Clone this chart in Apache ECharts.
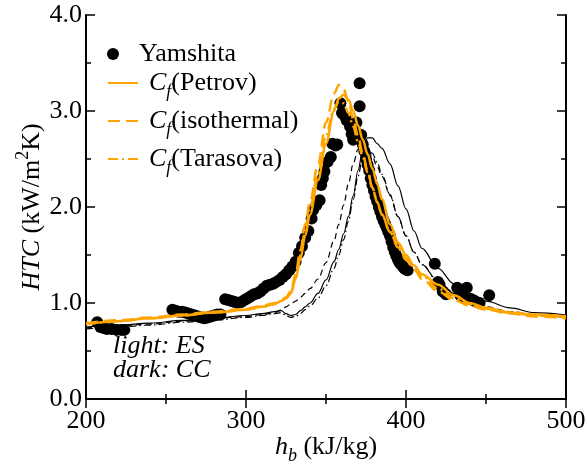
<!DOCTYPE html>
<html>
<head>
<meta charset="utf-8">
<script src="https://cdn.jsdelivr.net/npm/echarts@6/dist/echarts.min.js"></script>
<style>html,body{margin:0;padding:0;background:#fff}#c{width:587px;height:470px}</style>
</head>
<body>
<div id="c"></div>
<script>
// Yamshita experimental points
const yamH = [207,209,211,213,216,219,222,224,
 254,256,258,260,262,264,266,268,270,272,274,276,278,280,282,284,
 287,289,291,293,295,297,299,301,303,305,307,309,311,313,315,317,319,321,323,325,327,329,331,333,335,337,339,341,342,344,346,347,348,349,351,353,354,356,357,
 359,360,362,363,365,366,367,368,369,371,371,372,373,374,375,376,377,378,379,380,381,382,383,384,385,386,387,388,389,390,391,392,393,394,395,396,397,398,399,400,401,
 418,420,421,423,425,432,434,436,438,440,443,446,452];
const yamHTC = [0.80,0.75,0.74,0.73,0.73,0.72,0.72,0.72,
 0.93,0.92,0.91,0.91,0.90,0.89,0.88,0.87,0.86,0.85,0.84,0.85,0.86,0.87,0.88,0.88,
 1.04,1.03,1.02,1.01,1.00,1.01,1.03,1.05,1.07,1.09,1.10,1.12,1.15,1.18,1.19,1.20,1.22,1.24,1.27,1.30,1.34,1.38,1.43,1.52,1.59,1.68,1.75,1.88,1.97,2.02,2.07,2.23,2.30,2.37,2.47,2.52,2.66,2.64,2.65,
 3.08,2.98,2.94,2.90,2.84,2.76,2.70,2.80,2.88,3.05,3.29,2.75,2.65,2.58,2.50,2.44,2.38,2.30,2.23,2.17,2.11,2.06,2.00,1.95,1.90,1.86,1.82,1.78,1.74,1.70,1.64,1.58,1.53,1.49,1.45,1.42,1.40,1.38,1.36,1.35,1.34,
 1.41,1.22,1.19,1.12,1.09,1.16,1.08,1.06,1.16,1.04,1.02,1.00,1.08];

// common enthalpy grid for the model curves
const hGrid = [200,220,240,260,280,300,310,318,322,325,328,331,334,337,340,345,350,355,358,361,364,367,370,373,376,379,382,385,390,395,400,405,410,420,430,440,450,465,480,500];
// light: ES (orange)
const esPetrov = [0.78,0.81,0.84,0.87,0.90,0.93,0.96,0.99,1.02,1.05,1.10,1.25,1.46,1.70,1.92,2.28,2.66,3.00,3.13,3.17,3.12,3.00,2.85,2.70,2.55,2.40,2.24,2.08,1.82,1.63,1.50,1.39,1.30,1.19,1.08,1.00,0.95,0.90,0.88,0.86];
const esIso = [0.79,0.82,0.85,0.88,0.91,0.94,0.97,1.00,1.03,1.06,1.12,1.30,1.55,1.82,2.05,2.45,2.88,3.18,3.27,3.23,3.10,2.92,2.74,2.55,2.38,2.20,2.05,1.92,1.74,1.58,1.45,1.35,1.25,1.12,1.03,0.97,0.93,0.89,0.86,0.84];
const esTar = [0.78,0.81,0.84,0.87,0.90,0.93,0.96,0.99,1.02,1.05,1.10,1.27,1.50,1.76,1.98,2.35,2.75,3.02,3.10,3.08,2.98,2.84,2.68,2.52,2.36,2.20,2.05,1.92,1.74,1.59,1.47,1.37,1.28,1.15,1.05,0.99,0.94,0.90,0.87,0.85];
// dark: CC (black)
const ccPetrov = [0.75,0.77,0.79,0.82,0.84,0.87,0.89,0.91,0.92,0.89,0.87,0.88,0.92,0.96,1.00,1.10,1.24,1.43,1.56,1.72,1.90,2.12,2.38,2.60,2.72,2.72,2.66,2.61,2.45,2.22,1.98,1.75,1.57,1.36,1.20,1.10,1.02,0.95,0.90,0.875];
const ccIso = [0.74,0.76,0.78,0.81,0.84,0.86,0.88,0.90,0.93,0.96,0.99,1.02,1.06,1.10,1.15,1.25,1.42,1.65,1.82,2.02,2.24,2.45,2.60,2.66,2.62,2.52,2.42,2.32,2.12,1.90,1.70,1.53,1.40,1.23,1.10,1.02,0.96,0.91,0.88,0.86];
const ccTar = [0.73,0.75,0.77,0.80,0.82,0.85,0.87,0.89,0.90,0.87,0.85,0.86,0.89,0.93,0.97,1.05,1.18,1.36,1.50,1.66,1.85,2.08,2.32,2.52,2.60,2.56,2.46,2.34,2.13,1.90,1.70,1.53,1.40,1.22,1.09,1.01,0.95,0.90,0.87,0.85];

const xTicks = [200, 300, 400, 500];
const yTicks = [0, 1, 2, 3, 4];

const FONT = 'Liberation Serif';
const ORANGE = '#FFA500';
const zip = (xs, ys) => xs.map((x, i) => [x, ys[i]]);

const richBase = {
  t: {fontFamily: FONT, fontSize: 26, color: '#000', lineHeight: 36, verticalAlign: 'middle'},
  c: {fontFamily: FONT, fontSize: 26, color: '#000', fontStyle: 'italic', lineHeight: 36, verticalAlign: 'middle'},
  f: {fontFamily: FONT, fontSize: 18, color: '#000', fontStyle: 'italic', lineHeight: 18, verticalAlign: 'bottom'}
};

function lineSeries(name, data, color, width, type, z) {
  return {
    name: name, type: 'line', data: zip(hGrid, data), showSymbol: false, symbol: 'none',
    smooth: 0.35, smoothMonotone: 'x', z: z,
    lineStyle: {color: color, width: width, type: type}, itemStyle: {color: color},
    emphasis: {disabled: true}
  };
}

function legendItem(name, top, fmt, hideSymbol) {
  const lg = {
    data: [name], left: 107, top: top, itemWidth: 30, itemHeight: 12,
    selectedMode: false, padding: 0,
    formatter: fmt,
    textStyle: {fontFamily: FONT, fontSize: 26, color: '#000', padding: [0, 0, 0, 6], rich: richBase}
  };
  if (hideSymbol) lg.itemStyle = {color: 'rgba(0,0,0,0)', borderWidth: 0, opacity: 0};
  return lg;
}

const axisCommon = {
  axisLine: {show: true, lineStyle: {color: '#000', width: 2}},
  axisTick: {show: true, inside: true, length: 9, lineStyle: {color: '#000', width: 1.5}},
  minorTick: {show: true, splitNumber: 2, length: 5, lineStyle: {color: '#000', width: 1.5}},
  splitLine: {show: false}
};

const chart = echarts.init(document.getElementById('c'), null, {renderer: 'canvas'});
chart.setOption({
  animation: false,
  backgroundColor: '#fff',
  grid: {left: 86, right: 21, top: 15, bottom: 71, containLabel: false, outerBoundsMode: 'none'},
  legend: [
    legendItem('Yamshita', 41, function () { return '{t|Yamshita}'; }, false),
    legendItem('Cf(Petrov)', 70, function () { return '{c|C}{f|f}{t|(Petrov)}'; }, true),
    legendItem('Cf(isothermal)', 108, function () { return '{c|C}{f|f}{t|(isothermal)}'; }, true),
    legendItem('Cf(Tarasova)', 146, function () { return '{c|C}{f|f}{t|(Tarasova)}'; }, true)
  ],
  xAxis: [
    Object.assign({
      type: 'value', min: xTicks[0], max: xTicks[xTicks.length - 1], interval: 100, position: 'bottom',
      axisLabel: {fontFamily: FONT, fontSize: 26, color: '#000', margin: 9},
      name: '{c|h}{f|b}{t| (kJ/kg)}', nameLocation: 'middle', nameGap: 30, nameMoveOverlap: false,
      nameTextStyle: {fontFamily: FONT, fontSize: 26, color: '#000', rich: richBase}
    }, axisCommon),
    Object.assign({
      type: 'value', min: xTicks[0], max: xTicks[xTicks.length - 1], interval: 100, position: 'top',
      axisLabel: {show: false}
    }, axisCommon)
  ],
  yAxis: [
    Object.assign({
      type: 'value', min: yTicks[0], max: yTicks[yTicks.length - 1], interval: 1, position: 'left',
      axisLabel: {fontFamily: FONT, fontSize: 26, color: '#000', margin: 4, formatter: v => v.toFixed(1)},
      name: '{c|HTC}{t| (kW/m}{s|2}{t|K)}', nameLocation: 'middle', nameGap: 36, nameRotate: 90, nameMoveOverlap: false,
      nameTextStyle: {fontFamily: FONT, fontSize: 26, color: '#000', rich: Object.assign({
        s: {fontFamily: FONT, fontSize: 18, color: '#000', lineHeight: 18, verticalAlign: 'top'}
      }, richBase)}
    }, axisCommon),
    Object.assign({
      type: 'value', min: yTicks[0], max: yTicks[yTicks.length - 1], interval: 1, position: 'right',
      axisLabel: {show: false}
    }, axisCommon)
  ],
  graphic: [
    {type: 'text', left: 113, top: 333, silent: true,
     style: {text: 'light: ES', fontFamily: FONT, fontSize: 26, fontStyle: 'italic', fill: '#000'}},
    {type: 'text', left: 113, top: 357, silent: true,
     style: {text: 'dark: CC', fontFamily: FONT, fontSize: 26, fontStyle: 'italic', fill: '#000'}}
  ],
  series: [
    {name: 'Yamshita', type: 'scatter', data: zip(yamH, yamHTC), symbol: 'circle', symbolSize: 12,
     itemStyle: {color: '#000', opacity: 1}, z: 2, emphasis: {disabled: true}},
    lineSeries('CC Petrov', ccPetrov, '#000', 1.2, 'solid', 3),
    lineSeries('CC isothermal', ccIso, '#000', 1.2, [6, 4], 3),
    lineSeries('CC Tarasova', ccTar, '#000', 1.2, [7, 3, 1.5, 3], 3),
    lineSeries('Cf(Petrov)', esPetrov, ORANGE, 2.5, 'solid', 4),
    lineSeries('Cf(isothermal)', esIso, ORANGE, 2.5, [12, 6], 4),
    lineSeries('Cf(Tarasova)', esTar, ORANGE, 2.5, [10, 4, 2, 4], 4)
  ]
});
</script>
</body>
</html>
